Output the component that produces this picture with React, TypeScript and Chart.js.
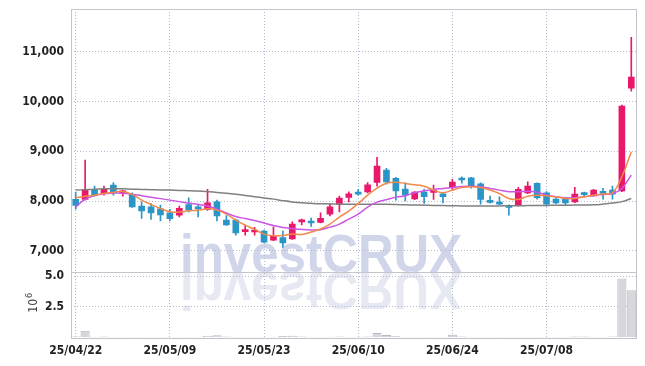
import React, { useEffect, useRef } from 'react';
import { Chart, registerables } from 'chart.js';
Chart.register(...registerables);

const dates = [
  '25/04/22','25/04/23','25/04/24','25/04/25','25/04/28','25/04/29','25/04/30','25/05/02','25/05/07','25/05/08',
  '25/05/09','25/05/12','25/05/13','25/05/14','25/05/15','25/05/16','25/05/19','25/05/20','25/05/21','25/05/22',
  '25/05/23','25/05/26','25/05/27','25/05/28','25/05/29','25/05/30','25/06/02','25/06/04','25/06/05','25/06/09',
  '25/06/10','25/06/11','25/06/12','25/06/13','25/06/16','25/06/17','25/06/18','25/06/19','25/06/20','25/06/23',
  '25/06/24','25/06/25','25/06/26','25/06/27','25/06/30','25/07/01','25/07/02','25/07/03','25/07/04','25/07/07',
  '25/07/08','25/07/09','25/07/10','25/07/11','25/07/14','25/07/15','25/07/16','25/07/17','25/07/18','25/07/21'
];

const opens = [
  8034,8034,8235,8155,8320,8165,8135,7900,7885,7845, 7765,7717,7933,7863,7833,7986,7618,7618,7387,7380,
  7397,7216,7270,7242,7582,7600,7572,7739,7933,8074, 8170,8187,8375,8623,8456,8241,8046,8181,8175,8147,
  8275,8450,8469,8348,8000,7955,7913,7920,8167,8356, 8167,8040,8040,7986,8150,8107,8175,8221,8207,10269
];
const highs = [
  8181,8824,8300,8300,8375,8220,8167,7986,7953,7920, 7833,7900,8067,7920,8235,8020,7712,7640,7518,7471,
  7420,7484,7400,7584,7640,7660,7765,7953,8100,8187, 8235,8375,8878,8660,8480,8368,8190,8240,8321,8160,
  8436,8489,8480,8370,8100,8087,7925,8275,8388,8370, 8190,8060,8060,8275,8180,8235,8255,8300,9930,11290
];
const lows = [
  7839,8020,8100,8120,8120,8100,7873,7652,7632,7604, 7604,7685,7785,7685,7813,7604,7510,7317,7317,7317,
  7163,7203,7069,7230,7520,7490,7560,7705,7785,7986, 8120,8167,8300,8340,8020,8006,8030,7953,8034,7966,
  8221,8360,8260,7940,7960,7930,7718,7900,8150,8040, 7900,7950,7930,7970,8100,8100,8040,8040,8190,10211
];
const closes = [
  7914,8235,8120,8235,8167,8185,7885,7805,7765,7725, 7645,7853,7820,7843,7966,7705,7524,7363,7407,7400,
  7176,7296,7162,7538,7602,7560,7652,7885,8060,8147, 8140,8328,8703,8388,8207,8127,8181,8087,8221,8087,
  8382,8425,8288,8034,7975,7940,7873,8235,8300,8067, 7940,7966,7966,8141,8130,8221,8155,8141,9909,10490
];

const maShort = [
  8067,8100,8120,8154,8175,8195,8135,8020,7933,7853, 7785,7779,7805,7819,7845,7819,7739,7618,7518,7431,
  7337,7303,7310,7340,7330,7380,7440,7540,7680,7800, 7950,8120,8260,8360,8380,8355,8330,8300,8221,8167,
  8221,8275,8288,8275,8221,8154,8054,8034,8100,8120, 8107,8087,8054,8054,8087,8120,8141,8167,8489,8991
];
const maMid = [
  7880,8040,8110,8150,8160,8160,8140,8110,8080,8050, 8020,7990,7960,7935,7900,7840,7760,7690,7650,7610,
  7560,7510,7470,7450,7430,7420,7427,7477,7538,7638, 7739,7879,7980,8030,8080,8110,8170,8207,8235,8255,
  8275,8295,8301,8288,8255,8221,8190,8190,8200,8181, 8120,8087,8067,8067,8087,8114,8134,8154,8255,8523
];
const maLong = [
  8221,8231,8241,8247,8247,8247,8241,8235,8231,8225, 8221,8215,8209,8201,8189,8175,8157,8137,8115,8090,
  8064,8040,8010,7984,7966,7956,7948,7944,7940,7936, 7936,7936,7936,7936,7932,7926,7922,7918,7914,7910,
  7906,7904,7904,7904,7904,7904,7906,7908,7910,7912, 7914,7916,7918,7920,7922,7926,7940,7960,7990,8054
];

const volumes = [
  90000,540000,60000,80000,40000,70000,50000,40000,60000,50000, 40000,50000,40000,60000,150000,180000,80000,50000,40000,60000,
  50000,60000,120000,150000,80000,60000,50000,70000,80000,60000, 60000,80000,370000,200000,100000,60000,70000,50000,40000,60000,
  220000,80000,70000,60000,50000,40000,50000,60000,70000,50000, 40000,50000,60000,90000,80000,70000,60000,80000,4800000,3850000
];

const priceMin = 6580;
const priceMax = 11860;
const priceTicks = [7000, 8000, 9000, 10000, 11000];
const volumeMax = 5350000;
const volumeTicks = [2500000, 5000000];

const UP = '#e8196b';
const DOWN = '#2b95c8';
const FONT = '"DejaVu Sans Condensed", "DejaVu Sans", sans-serif';

export default function App() {
  const ref = useRef<HTMLCanvasElement>(null);
  useEffect(() => {
    const colors = closes.map((c, i) => (c >= opens[i] ? UP : DOWN));
    const bodies = opens.map((o, i) => [o, closes[i]]);
    const wicks = lows.map((l, i) => [l, highs[i]]);

    const watermark = {
      id: 'watermark',
      beforeDraw(chart: any) {
        const ctx = chart.ctx;
        const base = chart.scales.y.bottom;
        const left = chart.chartArea.left + 109;
        ctx.save();
        ctx.font = 'bold 53px "Liberation Sans", Arial, sans-serif';
        ctx.textBaseline = 'alphabetic';
        const w = ctx.measureText('investCRUX').width;
        const sx = 282 / w;
        ctx.translate(left, base);
        ctx.save();
        ctx.scale(sx, 1);
        ctx.fillStyle = 'rgb(208,213,233)';
        ctx.fillText('investCRUX', 0, 0);
        ctx.restore();
        ctx.save();
        ctx.scale(sx, -1);
        ctx.fillStyle = 'rgb(230,232,242)';
        ctx.fillText('investCRUX', 0, 0);
        ctx.restore();
        ctx.restore();
      },
    };

    const frame = {
      id: 'frame',
      beforeDatasetsDraw(chart: any) {
        const ctx = chart.ctx;
        const a = chart.chartArea;
        const sep = Math.round(chart.scales.y.bottom) + 0.5;
        ctx.save();
        ctx.strokeStyle = '#c4c4cc';
        ctx.lineWidth = 1;
        ctx.strokeRect(Math.round(a.left) + 0.5, Math.round(a.top) + 0.5, Math.round(a.right - a.left), Math.round(a.bottom - a.top));
        ctx.beginPath();
        ctx.moveTo(a.left, sep);
        ctx.lineTo(a.right, sep);
        ctx.stroke();
        ctx.restore();
      },
    };

    const exponent = {
      id: 'exponent',
      afterDraw(chart: any) {
        const ctx = chart.ctx;
        const yv = chart.scales.yv;
        const cy = (yv.top + yv.bottom) / 2;
        ctx.save();
        ctx.translate(37, cy + 8);
        ctx.rotate(-Math.PI / 2);
        ctx.fillStyle = '#444';
        ctx.textBaseline = 'alphabetic';
        ctx.textAlign = 'left';
        ctx.font = '12px ' + FONT;
        ctx.fillText('10', 0, 0);
        const w = ctx.measureText('10').width;
        ctx.font = '9px ' + FONT;
        ctx.fillText('6', w + 1, -5);
        ctx.restore();
      },
    };

    const tickFont = { family: FONT, size: 12, weight: 'bold' };
    const gridColor = '#b4b8d0';
    const gridDash = [1, 2];
    const noPad = (s: any) => { s.paddingTop = 0; s.paddingBottom = 0; s.paddingLeft = 0; s.paddingRight = 0; };

    const chart = new Chart(ref.current as HTMLCanvasElement, {
      type: 'bar',
      data: {
        labels: dates,
        datasets: [
          { type: 'line', label: 'MA short', data: maShort, yAxisID: 'y', borderColor: '#f08a4b', borderWidth: 1.5, pointRadius: 0, tension: 0.4, fill: false, order: 0 } as any,
          { type: 'line', label: 'MA mid', data: maMid, yAxisID: 'y', borderColor: '#cc55e6', borderWidth: 1.5, pointRadius: 0, tension: 0.4, fill: false, order: 1 } as any,
          { type: 'line', label: 'MA long', data: maLong, yAxisID: 'y', borderColor: '#808080', borderWidth: 1.5, pointRadius: 0, tension: 0.4, fill: false, order: 2 } as any,
          { type: 'bar', label: 'body', data: bodies, yAxisID: 'y', backgroundColor: colors, borderWidth: 0, barThickness: 6, minBarLength: 2, grouped: false, order: 4 } as any,
          { type: 'bar', label: 'wick', data: wicks, yAxisID: 'y', backgroundColor: colors, borderWidth: 0, barThickness: 1, grouped: false, order: 5 } as any,
          { type: 'bar', label: 'volume', data: volumes, yAxisID: 'yv', backgroundColor: '#d6d6dc', borderColor: '#b8b8c2', borderWidth: 1, barPercentage: 1, categoryPercentage: 0.97, grouped: false, order: 6 } as any,
        ],
      },
      options: {
        responsive: false,
        animation: false,
        layout: { padding: { top: 9, right: 9, left: 0, bottom: 0 } },
        plugins: { legend: { display: false }, tooltip: { enabled: false } },
        scales: {
          x: {
            type: 'category',
            offset: true,
            grid: { offset: false, color: gridColor, drawTicks: false },
            border: { display: false, dash: gridDash },
            ticks: {
              autoSkip: false,
              maxRotation: 0,
              padding: 6,
              color: '#222',
              font: tickFont,
              callback: (_v: any, i: number) => (i % 10 === 0 ? dates[i] : null),
            },
            afterFit: (s: any) => { s.height = 28.5; noPad(s); },
          },
          yv: {
            type: 'linear',
            position: 'left',
            stack: 'panels',
            stackWeight: 1,
            min: 0,
            max: volumeMax,
            grid: { color: gridColor, drawTicks: false },
            border: { display: false, dash: gridDash },
            ticks: {
              padding: 7,
              color: '#222',
              font: tickFont,
              callback: (v: any) => (Number(v) / 1e6).toFixed(1),
            },
            afterBuildTicks: (s: any) => { s.ticks = volumeTicks.map((v) => ({ value: v })); },
            afterFit: (s: any) => { s.width = 71; noPad(s); },
          },
          y: {
            type: 'linear',
            position: 'left',
            stack: 'panels',
            stackWeight: 4,
            min: priceMin,
            max: priceMax,
            grid: { color: gridColor, drawTicks: false },
            border: { display: false, dash: gridDash },
            ticks: {
              padding: 7,
              color: '#222',
              font: tickFont,
              callback: (v: any) => Number(v).toLocaleString('en-US'),
            },
            afterBuildTicks: (s: any) => { s.ticks = priceTicks.map((v) => ({ value: v })); },
            afterFit: (s: any) => { s.width = 71; noPad(s); },
          },
        } as any,
      },
      plugins: [watermark, frame, exponent],
    });
    return () => chart.destroy();
  }, []);

  return (
    <div style={{ position: 'absolute', left: 0, top: 0, width: 645, height: 366, background: '#fff' }}>
      <canvas ref={ref} width={645} height={366} style={{ display: 'block', width: 645, height: 366 }} />
    </div>
  );
}
